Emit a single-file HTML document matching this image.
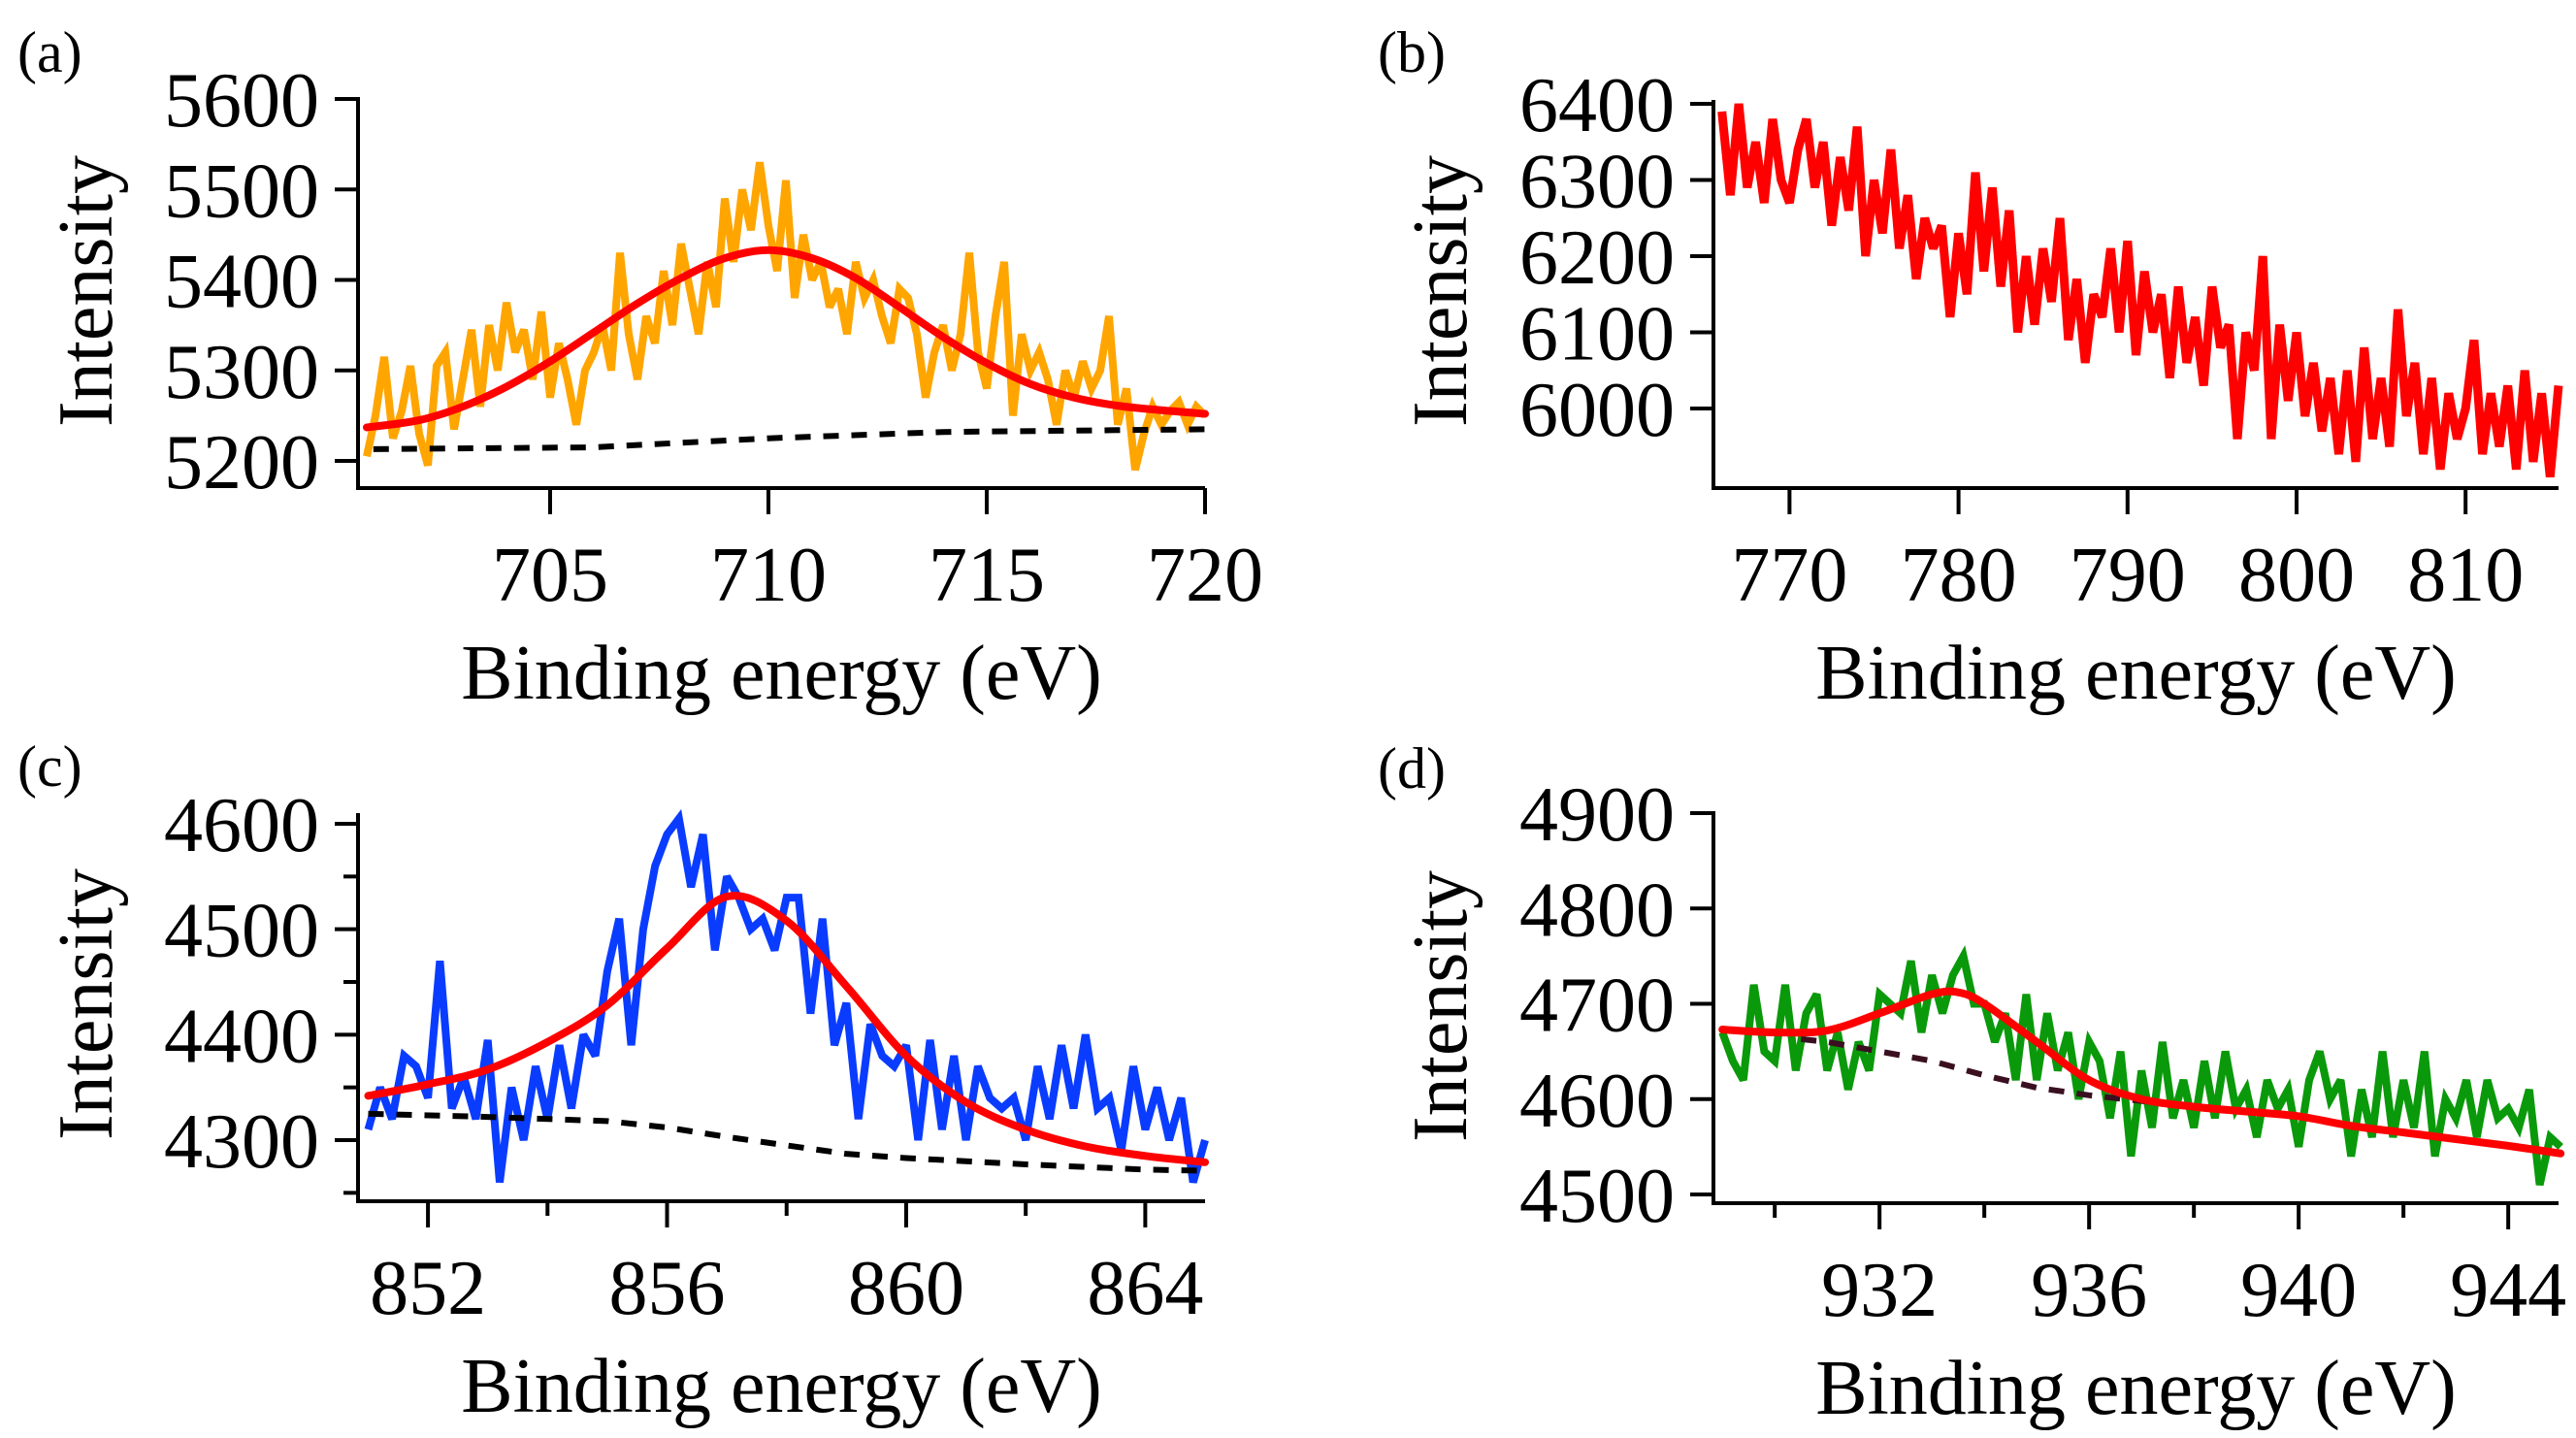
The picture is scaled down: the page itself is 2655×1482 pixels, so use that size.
<!DOCTYPE html>
<html><head><meta charset="utf-8"><style>
html,body{margin:0;padding:0;background:#fff;}
svg{display:block;}
text{font-family:"Liberation Serif",serif;fill:#000;}
</style></head><body>
<svg id="fig" width="2655" height="1482" viewBox="0 0 2655 1482" xmlns="http://www.w3.org/2000/svg"></svg>
<script>
// ---------- data ----------
const aStart = 700.8, aStep = 0.2;
const aData = [5205,5250,5315,5225,5255,5305,5230,5195,5305,5320,5235,5290,5345,5260,5350,5300,5375,5320,5345,5290,5365,5270,5330,5290,5240,5300,5320,5350,5300,5430,5340,5290,5360,5330,5410,5350,5440,5390,5340,5420,5370,5490,5420,5500,5455,5530,5460,5410,5510,5380,5450,5400,5420,5370,5390,5340,5420,5380,5400,5360,5330,5390,5380,5340,5270,5320,5350,5300,5340,5430,5320,5280,5360,5420,5250,5340,5300,5320,5290,5240,5300,5270,5310,5280,5300,5360,5240,5280,5190,5230,5260,5240,5255,5265,5240,5260,5250];
const aFitX = [700.8,702,703,704,705,706,707,708,709,710,711,712,713,714,715,716,717,718,719,720];
const aFitY = [5237,5245,5260,5282,5310,5342,5374,5402,5424,5433,5424,5402,5370,5337,5308,5285,5270,5261,5256,5252];
const aBaseX = [700.95,706,710,714,718,720];
const aBaseY = [5213,5215,5225,5232,5234,5235];
const aXTicks = [705,710,715,720];
const aYTicks = [5200,5300,5400,5500,5600];

const bStart = 766.0, bStep = 0.5;
const bData = [6390,6280,6400,6290,6350,6270,6380,6300,6270,6340,6380,6290,6350,6240,6330,6260,6370,6200,6300,6230,6340,6210,6280,6170,6250,6210,6240,6120,6230,6150,6310,6180,6290,6160,6260,6100,6200,6110,6210,6140,6250,6090,6170,6060,6150,6120,6210,6100,6220,6070,6180,6100,6150,6040,6160,6060,6120,6030,6160,6080,6110,5960,6100,6050,6200,5960,6110,6010,6100,5990,6060,5970,6040,5940,6050,5930,6080,5960,6040,5950,6130,5990,6060,5940,6040,5920,6020,5960,6000,6090,5940,6020,5950,6030,5920,6050,5930,6020,5910,6030];
const bXTicks = [770,780,790,800,810];
const bYTicks = [6000,6100,6200,6300,6400];

const cStart = 851.0, cStep = 0.2;
const cData = [4310,4350,4320,4380,4370,4340,4470,4330,4360,4320,4395,4260,4350,4300,4370,4320,4390,4330,4400,4380,4460,4510,4390,4500,4560,4590,4605,4540,4590,4480,4550,4530,4500,4510,4480,4530,4530,4420,4510,4390,4430,4320,4410,4380,4370,4390,4300,4395,4310,4380,4300,4370,4340,4330,4340,4300,4370,4320,4390,4330,4400,4330,4340,4290,4370,4310,4350,4300,4340,4260,4300];
const cFitX = [851,852,853,854,855,856,857,858,859,860,861,862,863,864,865];
const cFitY = [4342,4353,4367,4393,4428,4482,4531,4508,4446,4380,4336,4310,4294,4285,4279];
const cBaseX = [851,853,855,856,857,858,859,860,862,864,865];
const cBaseY = [4325,4322,4318,4312,4303,4295,4287,4283,4277,4272,4271];
const cXTicks = [852,856,860,864];
const cXMinor = [854,858,862];
const cYTicks = [4300,4400,4500,4600];
const cYMinor = [4250,4350,4450,4550];

const dStart = 929.0, dStep = 0.2;
const dData = [4670,4640,4620,4720,4650,4640,4720,4630,4690,4710,4630,4670,4610,4660,4630,4710,4700,4690,4745,4670,4730,4690,4730,4750,4700,4700,4660,4690,4620,4710,4620,4690,4630,4670,4600,4660,4640,4580,4650,4540,4630,4570,4660,4580,4620,4570,4640,4580,4650,4590,4610,4560,4620,4590,4610,4550,4620,4650,4600,4620,4540,4610,4560,4650,4560,4620,4570,4650,4540,4600,4580,4620,4560,4620,4580,4590,4570,4610,4510,4560,4550];
const dFitX = [929,930,931,932,933,933.5,934,935,936,937,938,939,940,941,942,943,944,945];
const dFitY = [4673,4670,4672,4690,4710,4712,4700,4660,4620,4600,4592,4587,4582,4572,4565,4558,4551,4543];
const dBaseX = [930.5,931,932,933,934,935,936,937,938];
const dBaseY = [4663,4660,4650,4640,4625,4612,4604,4598,4592];
const dXTicks = [932,936,940,944];
const dXMinor = [930,934,938,942];
const dYTicks = [4500,4600,4700,4800,4900];

// ---------- drawing ----------
const NS = 'http://www.w3.org/2000/svg';
const svg = document.getElementById('fig');
function mk(tag, attrs, parent){
  const e = document.createElementNS(NS, tag);
  for (const k in attrs) e.setAttribute(k, attrs[k]);
  (parent||svg).appendChild(e);
  return e;
}
function scale(d0,d1,r0,r1){ return v => r0 + (v-d0)*(r1-r0)/(d1-d0); }
function pathFrom(xs, ys, sx, sy){
  return xs.map((x,i)=> (i?'L':'M') + sx(x).toFixed(1) + ',' + sy(ys[i]).toFixed(1)).join('');
}
function seqX(start, step, n){ const r=[]; for(let i=0;i<n;i++) r.push(start+step*i); return r; }

function panel(cfg){
  const g = mk('g', {});
  
  
  const sx = scale(cfg.x0, cfg.x1, cfg.left, cfg.right);
  const sy = scale(cfg.yA, cfg.yB, cfg.pyA, cfg.pyB);
  const xs = seqX(cfg.start, cfg.step, cfg.data.length);
  const s = mk('path', {d: pathFrom(xs, cfg.data, sx, sy), fill:'none', stroke:cfg.color, 'stroke-width':cfg.lw||8, 'stroke-linejoin':'miter', 'stroke-miterlimit':3}, g);
  
  
  if (cfg.baseX){
    const b = mk('path', {d: pathFrom(cfg.baseX, cfg.baseY, sx, sy), fill:'none', stroke:cfg.baseColor, 'stroke-width':6, 'stroke-dasharray':'16 13'}, g);
    
    
  }
  if (cfg.fitX){
    const pts = cfg.fitX.map((x,i)=>[sx(x), sy(cfg.fitY[i])]);
    let d = 'M'+pts[0][0]+','+pts[0][1];
    for (let i=0;i<pts.length-1;i++){
      const p0=pts[Math.max(0,i-1)], p1=pts[i], p2=pts[i+1], p3=pts[Math.min(pts.length-1,i+2)];
      const c1=[p1[0]+(p2[0]-p0[0])/6, p1[1]+(p2[1]-p0[1])/6];
      const c2=[p2[0]-(p3[0]-p1[0])/6, p2[1]-(p3[1]-p1[1])/6];
      d += 'C'+c1.join(',')+' '+c2.join(',')+' '+p2.join(',');
    }
    const f = mk('path', {d:d, fill:'none', stroke:'#ff0000', 'stroke-width':8, 'stroke-linecap':'round'}, g);
    
    
  }
  const ax = mk('path', {d:`M${cfg.left},${cfg.axisTop}V${cfg.bottom}H${cfg.right}`, fill:'none', stroke:'#000', 'stroke-width':4}, g);
  
  
  cfg.yTicks.forEach(v=>{
    const y = sy(v);
    mk('line', {x1:cfg.left-24, x2:cfg.left, y1:y, y2:y, stroke:'#000', 'stroke-width':4}, g);
    const t = mk('text', {x:cfg.left-40, y:y+28, 'font-size':80, 'text-anchor':'end'}, g);
    
    
    t.textContent = v;
  });
  (cfg.yMinor||[]).forEach(v=>{
    const y = sy(v);
    mk('line', {x1:cfg.left-15, x2:cfg.left, y1:y, y2:y, stroke:'#000', 'stroke-width':4}, g);
  });
  cfg.xTicks.forEach(v=>{
    const x = sx(v);
    mk('line', {x1:x, x2:x, y1:cfg.bottom, y2:cfg.bottom+27, stroke:'#000', 'stroke-width':4}, g);
    const t = mk('text', {x:x, y:cfg.bottom+116, 'font-size':80, 'text-anchor':'middle'}, g);
    
    
    t.textContent = v;
  });
  (cfg.xMinor||[]).forEach(v=>{
    const x = sx(v);
    mk('line', {x1:x, x2:x, y1:cfg.bottom, y2:cfg.bottom+15, stroke:'#000', 'stroke-width':4}, g);
  });
  const xt = mk('text', {x:(cfg.left+cfg.right)/2, y:cfg.bottom+217, 'font-size':80, 'text-anchor':'middle'}, g);
  
  
  xt.textContent = 'Binding energy (eV)';
  const yt = mk('text', {x:0, y:0, 'font-size':80, 'text-anchor':'middle', transform:`translate(${cfg.ytX},${cfg.ytY}) rotate(-90)`}, g);
  
  
  yt.textContent = 'Intensity';
  const pl = mk('text', {x:cfg.labX, y:cfg.labY, 'font-size':60}, g);
  
  
  pl.textContent = cfg.label;
}

panel({name:'panel-a', label:'(a)', labX:18, labY:74, left:369, right:1242, bottom:503, axisTop:100,
  x0:700.6, x1:720, yA:5200, yB:5600, pyA:475, pyB:102, data:aData, start:aStart, step:aStep, color:'#ffa500',
  fitX:aFitX, fitY:aFitY, baseX:aBaseX, baseY:aBaseY, baseColor:'#000',
  xTicks:aXTicks, yTicks:aYTicks, ytX:115, ytY:300});
panel({name:'panel-b', label:'(b)', labX:1420, labY:74, left:1766, right:2637, bottom:503, axisTop:103,
  x0:765.5, x1:815.5, yA:6000, yB:6400, pyA:421, pyB:107, data:bData, start:bStart, step:bStep, color:'#ff0000', lw:9,
  xTicks:bXTicks, yTicks:bYTicks, ytX:1511, ytY:300});
panel({name:'panel-c', label:'(c)', labX:18, labY:810, left:369, right:1242, bottom:1238, axisTop:838,
  x0:850.83, x1:865, yA:4300, yB:4600, pyA:1175, pyB:849, data:cData, start:cStart, step:cStep, color:'#0a3cff',
  fitX:cFitX, fitY:cFitY, baseX:cBaseX, baseY:cBaseY, baseColor:'#000',
  xTicks:cXTicks, xMinor:cXMinor, yTicks:cYTicks, yMinor:cYMinor, ytX:115, ytY:1035});
panel({name:'panel-d', label:'(d)', labX:1420, labY:812, left:1766, right:2637, bottom:1240, axisTop:836,
  x0:928.83, x1:944.96, yA:4500, yB:4900, pyA:1231, pyB:838, data:dData, start:dStart, step:dStep, color:'#0a990a',
  fitX:dFitX, fitY:dFitY, baseX:dBaseX, baseY:dBaseY, baseColor:'#3a1020',
  xTicks:dXTicks, xMinor:dXMinor, yTicks:dYTicks, ytX:1511, ytY:1037});
</script>
</body></html>
